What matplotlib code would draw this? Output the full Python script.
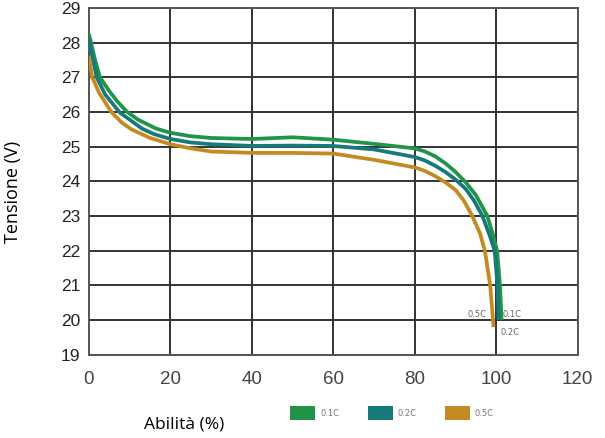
import matplotlib
matplotlib.use("Agg")
import matplotlib.pyplot as plt
from matplotlib.patches import Patch

# dati
x_01c = [0, 0.5, 1.5, 2.7, 5, 7, 9.2, 12, 16.5, 20, 25, 30, 40, 50, 60, 70, 80, 82.5, 85, 87.5, 90,
         92.5, 95, 97.8, 99.2, 100.2, 100.9, 101.3]
y_01c = [28.25, 28.0, 27.5, 27.0, 26.6, 26.3, 26.02, 25.78, 25.52, 25.4, 25.3, 25.25, 25.22, 25.27,
         25.2, 25.08, 24.95, 24.86, 24.72, 24.52, 24.27, 23.97, 23.6, 23.0, 22.45, 22.0, 21.0, 20.0]

x_02c = [0, 0.5, 1.9, 4, 7.6, 10, 13, 16, 20, 25, 30, 40, 50, 60, 70, 80, 82.5, 85, 87.5, 90,
         92.5, 94.5, 96.6, 98.5, 99.6, 100.3, 100.6]
y_02c = [28.1, 27.8, 27.0, 26.5, 25.98, 25.78, 25.52, 25.36, 25.22, 25.12, 25.07, 25.02, 25.03,
         25.02, 24.92, 24.7, 24.6, 24.45, 24.27, 24.05, 23.78, 23.45, 23.0, 22.4, 22.0, 21.0, 20.0]

x_05c = [0, 0.8, 2.5, 5.5, 8, 10.4, 15, 20, 25, 30, 40, 50, 60, 70, 80, 82.5, 85, 87.5, 90,
         92, 94.1, 96, 97.2, 98.5, 99.2, 99.3]
y_05c = [27.6, 27.0, 26.55, 26.0, 25.7, 25.5, 25.25, 25.07, 24.95, 24.86, 24.82, 24.82, 24.8,
         24.62, 24.4, 24.3, 24.15, 23.97, 23.75, 23.45, 23.0, 22.5, 22.0, 21.0, 20.0, 19.8]

series = ["0.1C", "0.2C", "0.5C"]
colors = ["#209448", "#157a78", "#c48a22"]
x_ticks = [0, 20, 40, 60, 80, 100, 120]
y_ticks = list(range(19, 30))

fig = plt.figure(figsize=(6.05, 4.38), dpi=100)
ax = fig.add_axes([0.147, 0.19, 0.808, 0.792])

for xs, ys, c in zip([x_01c, x_02c, x_05c], [y_01c, y_02c, y_05c], colors):
    ax.plot(xs, ys, color=c, lw=2.7, solid_joinstyle="round", solid_capstyle="butt", zorder=3)

ax.set_xlim(0, 119)
ax.set_ylim(19, 29)
ax.set_xticks(x_ticks)
ax.set_yticks(y_ticks)
ax.grid(True, color="#333333", lw=1.4)
for s in ax.spines.values():
    s.set_color("#555555")
    s.set_linewidth(1.4)
ax.tick_params(length=0)
ax.tick_params(axis="y", pad=6, labelsize=12.5, labelcolor="#222222")
ax.tick_params(axis="x", pad=12, labelsize=13.5, labelcolor="#444444")
for lab in ax.get_yticklabels() + ax.get_xticklabels():
    lab.set_fontfamily("Liberation Sans")

# etichette vicino alle curve
ax.text(97.6, 20.15, "0.5C", fontsize=6, color="#666666", ha="right", va="center")
ax.text(101.6, 20.15, "0.1C", fontsize=6, color="#666666", ha="left", va="center")
ax.text(101.0, 19.65, "0.2C", fontsize=6, color="#666666", ha="left", va="center")

ax.set_ylabel("Tensione (V)", fontsize=13, family="Open Sans")
ax.yaxis.set_label_coords(-0.137, 0.47)
fig.text(0.305, 0.03, "Abilità (%)", fontsize=12.5, family="Open Sans", ha="center", va="center")

handles = [Patch(facecolor=c, edgecolor="none", label=s) for c, s in zip(colors, series)]
fig.legend(handles=handles, ncol=3, loc="center", bbox_to_anchor=(0.648, 0.057),
           frameon=False, fontsize=6, labelcolor="#777777",
           handlelength=3.0, handleheight=2.2, handletextpad=0.6, columnspacing=3.4)

fig.savefig("out.png", dpi=100)
